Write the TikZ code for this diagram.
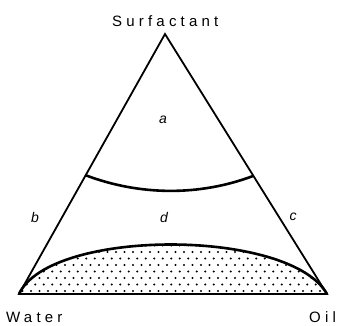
\documentclass[tikz,border=0pt]{standalone}
\usepackage{fontspec}
\setmainfont{Liberation Sans}
\newfontfamily\spaced[LetterSpace=28]{Liberation Sans}
\begin{document}
\begin{tikzpicture}[x=1pt,y=-1pt,
  edge/.style={line width=1.8pt, line join=miter},
  boundary/.style={line width=2.6pt},
  vlabel/.style={font=\spaced\fontsize{15}{17}\selectfont, inner sep=0pt, anchor=base west},
  rlabel/.style={font=\itshape\fontsize{14}{16}\selectfont, inner sep=0pt}]
\useasboundingbox (0,0) rectangle (338,325);
\coordinate (S) at (165,34);
\coordinate (W) at (19,294);
\coordinate (O) at (327,294);
\coordinate (L) at (85,175);
\coordinate (R) at (253,176);
% dotted dome
\begin{scope}
  \clip (W) .. controls (50,228) and (290,228) .. (O) -- cycle;
  \foreach \j in {0,...,10} {
    \foreach \i in {0,...,36} {
      \fill ({14+\i*8.5+mod(\j,2)*4.25}, {291-\j*6.5}) circle (1.2pt);
    }
  }
\end{scope}
\draw[boundary] (W) .. controls (50,228) and (290,228) .. (O);
\draw[edge] (S) -- (W) -- (O) -- cycle;
\draw[boundary] (L) .. controls (140,196) and (200,196) .. (R);
% labels
\node[vlabel] (surf) at (112,26) {Surfactant};
\node[vlabel] (water) at (6,322) {Water};
\node[vlabel] (oil) at (309,322) {Oil};
\node[rlabel] (a) at (163,120) {a};
\node[rlabel] (b) at (35,217) {b};
\node[rlabel] (d) at (164,217) {d};
\node[rlabel] (c) at (293,217) {c};
\end{tikzpicture}
\end{document}
